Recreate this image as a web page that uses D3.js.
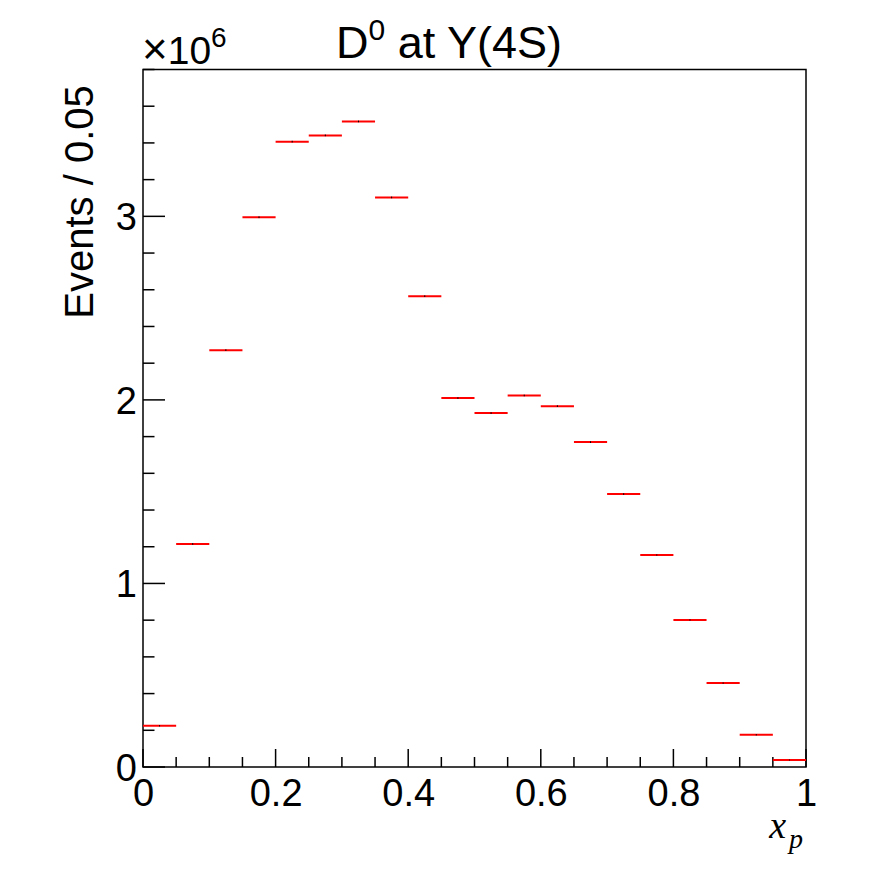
<!DOCTYPE html>
<html><head><meta charset="utf-8">
<script src="https://cdn.jsdelivr.net/npm/d3@7"></script>
<style>body{margin:0;background:#fff}</style>
</head><body>
<svg id="c" width="896" height="872"></svg>
<script>
// bin edges (x_p) and counts per 0.05 bin, in units of 1e6
const binLow = [0.00,0.05,0.10,0.15,0.20,0.25,0.30,0.35,0.40,0.45,0.50,0.55,0.60,0.65,0.70,0.75,0.80,0.85,0.90,0.95];
const counts = [0.2245,1.215,2.271,2.995,3.407,3.441,3.517,3.103,2.565,2.010,1.928,2.024,1.966,1.770,1.487,1.155,0.801,0.457,0.1755,0.038];
const errs   = [0.002,0.003,0.003,0.003,0.003,0.003,0.003,0.003,0.003,0.003,0.003,0.003,0.003,0.003,0.003,0.002,0.002,0.002,0.002,0.001];
const binWidth = 0.05;
const xTicks = [0, 0.2, 0.4, 0.6, 0.8, 1];
const yTicks = [0, 1, 2, 3];
const title = "at Y(4S)";
const yTitle = "Events / 0.05";

const L = 143, R = 806, T = 69.5, B = 767;
const svg = d3.select("#c");
const x = d3.scaleLinear().domain([0, 1]).range([L, R]);
const y = d3.scaleLinear().domain([0, 3.8]).range([B, T]);
const font = "'Liberation Sans', Arial, Helvetica, sans-serif";

// frame
svg.append("rect").attr("x", L).attr("y", T).attr("width", R - L).attr("height", B - T)
  .attr("fill", "none").attr("stroke", "#000").attr("stroke-width", 1.5);

// x axis ticks (inside, upward)
const xMinor = d3.range(0, 1.0001, 0.05);
svg.append("g").selectAll("line").data(xMinor).join("line")
  .attr("x1", d => x(d)).attr("x2", d => x(d))
  .attr("y1", B).attr("y2", d => (Math.abs(d / 0.2 - Math.round(d / 0.2)) < 1e-6) ? B - 18 : B - 10)
  .attr("stroke", "#000").attr("stroke-width", 1.5);

const xAxis = d3.axisBottom(x).tickValues(xTicks).tickSize(0).tickPadding(0)
  .tickFormat(d => d3.format("")(d));
const gx = svg.append("g").attr("transform", `translate(0,${B})`).call(xAxis);
gx.select(".domain").remove();
gx.selectAll("text").attr("font-family", font).attr("font-size", 38).attr("fill", "#000")
  .attr("dy", null).attr("y", 39);

// y axis ticks (inside, rightward)
const yMinor = d3.range(0, 3.80001, 0.2);
svg.append("g").selectAll("line").data(yMinor).join("line")
  .attr("y1", d => y(d)).attr("y2", d => y(d))
  .attr("x1", L).attr("x2", d => (Math.abs(d - Math.round(d)) < 1e-6) ? L + 22 : L + 11.5)
  .attr("stroke", "#000").attr("stroke-width", 1.5);

const yAxis = d3.axisLeft(y).tickValues(yTicks).tickSize(0).tickPadding(0).tickFormat(d3.format("d"));
const gy = svg.append("g").attr("transform", `translate(${L},0)`).call(yAxis);
gy.select(".domain").remove();
gy.selectAll("text").attr("font-family", font).attr("font-size", 38).attr("fill", "#000")
  .attr("x", -6).attr("dy", "0.35em");

// histogram: red horizontal bin lines + tiny black error bars
const data = binLow.map((lo, i) => ({lo, v: counts[i], e: errs[i]}));
svg.append("g").selectAll("line").data(data).join("line")
  .attr("x1", d => x(d.lo)).attr("x2", d => x(d.lo + binWidth))
  .attr("y1", d => y(d.v)).attr("y2", d => y(d.v))
  .attr("stroke", "#ff0000").attr("stroke-width", 2);
svg.append("g").selectAll("line").data(data).join("line")
  .attr("x1", d => x(d.lo + binWidth / 2)).attr("x2", d => x(d.lo + binWidth / 2))
  .attr("y1", d => y(d.v - d.e) + 0.3).attr("y2", d => y(d.v + d.e) - 0.3)
  .attr("stroke", "#000").attr("stroke-width", 1);

// title
const t = svg.append("text").attr("x", 449).attr("y", 58).attr("text-anchor", "middle")
  .attr("font-family", font).attr("font-size", 45).attr("fill", "#000");
t.append("tspan").text("D");
t.append("tspan").attr("font-size", 30).attr("dy", -18).text("0");
t.append("tspan").attr("dy", 18).text(" " + title);

// exponent label
const ex = svg.append("text").attr("x", 142).attr("y", 64).attr("font-family", font)
  .attr("font-size", 39).attr("fill", "#000");
ex.append("tspan").attr("font-size", 44).text("\u00d7");
ex.append("tspan").text("10");
ex.append("tspan").attr("font-size", 28).attr("dy", -17).text("6");

// y title
svg.append("text").attr("transform", "translate(93,202) rotate(-90)").attr("text-anchor", "middle")
  .attr("font-family", font).attr("font-size", 40).attr("fill", "#000").text(yTitle);

// x title
const xt = svg.append("text").attr("x", 803).attr("y", 838).attr("text-anchor", "end")
  .attr("font-family", "'Liberation Serif', 'Times New Roman', serif").attr("font-style", "italic")
  .attr("font-size", 38).attr("fill", "#000");
xt.append("tspan").text("x");
xt.append("tspan").attr("font-size", 28).attr("dy", 10).attr("dx", 3).text("p");
</script>
</body></html>
